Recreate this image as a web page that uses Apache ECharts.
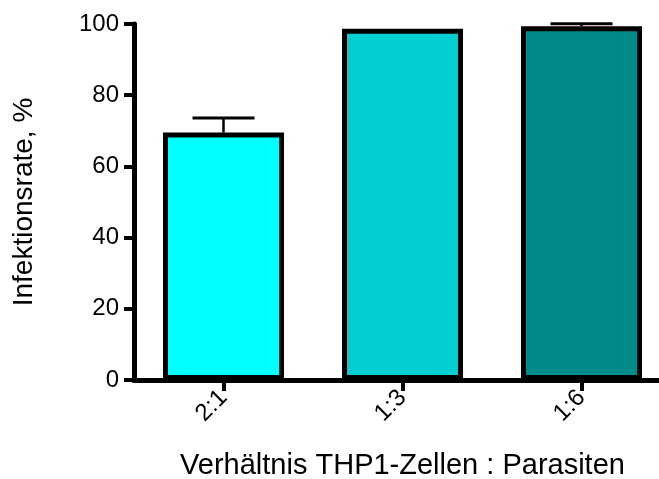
<!DOCTYPE html>
<html><head><meta charset="utf-8">
<script src="https://cdn.jsdelivr.net/npm/echarts@6/dist/echarts.min.js"></script>
<style>html,body{margin:0;padding:0;background:#fff}#c{width:659px;height:479px}</style>
</head><body><div id="c"></div>
<script>
const categories = ['2:1', '1:3', '1:6'];
const values = [69.5, 98.7, 99.4];
const errors = [4.1, 0, 0.7];
const colors = ['#00FFFF', '#00CED1', '#008B8B'];
const yTicks = [0, 20, 40, 60, 80, 100];

const FONT = 'Liberation Sans, Arial, Helvetica, sans-serif';
const chart = echarts.init(document.getElementById('c'), null, {renderer: 'canvas'});
chart.setOption({
  animation: false,
  backgroundColor: '#fff',
  grid: {left: 134, top: 24, width: 537, bottom: 99, containLabel: false, outerBoundsMode: 'none'},
  xAxis: {
    type: 'category', data: categories,
    name: 'Verhältnis THP1-Zellen : Parasiten', nameLocation: 'middle', nameGap: 71,
    nameTextStyle: {fontFamily: FONT, fontSize: 29, color: '#000'},
    axisLine: {show: true, lineStyle: {color: '#000', width: 5}},
    axisTick: {show: true, alignWithLabel: true, length: 11, lineStyle: {color: '#000', width: 4}},
    axisLabel: {rotate: 45, margin: 14, fontFamily: FONT, fontSize: 24, color: '#000', hideOverlap: false},
    z: 5
  },
  yAxis: {
    type: 'value', min: yTicks[0], max: yTicks[yTicks.length - 1], interval: 20,
    name: 'Infektionsrate, %', nameLocation: 'middle', nameGap: 96,
    nameTextStyle: {fontFamily: FONT, fontSize: 28, color: '#000'},
    axisLine: {show: true, lineStyle: {color: '#000', width: 5}},
    axisTick: {show: true, length: 10, lineStyle: {color: '#000', width: 4}},
    axisLabel: {margin: 15, fontFamily: FONT, fontSize: 24, color: '#000'},
    splitLine: {show: false},
    z: 5
  },
  series: [{
    type: 'bar', barWidth: 121,
    data: values.map((v, i) => ({value: v, itemStyle: {color: colors[i]}})),
    itemStyle: {borderColor: '#000', borderWidth: 5},
    z: 2
  }, {
    type: 'custom', z: 3,
    data: values.map((v, i) => [i, v, v + errors[i]]),
    renderItem: function (params, api) {
      const x = api.value(0);
      if (api.value(2) <= api.value(1)) return null;
      const p0 = api.coord([x, api.value(1)]);
      const p1 = api.coord([x, api.value(2)]);
      const half = 31;
      return {type: 'group', children: [
        {type: 'line', shape: {x1: p0[0], y1: p0[1], x2: p1[0], y2: p1[1]}, style: {stroke: '#000', lineWidth: 2.5}},
        {type: 'line', shape: {x1: p1[0] - half, y1: p1[1], x2: p1[0] + half, y2: p1[1]}, style: {stroke: '#000', lineWidth: 3}}
      ]};
    }
  }]
});
</script></body></html>
